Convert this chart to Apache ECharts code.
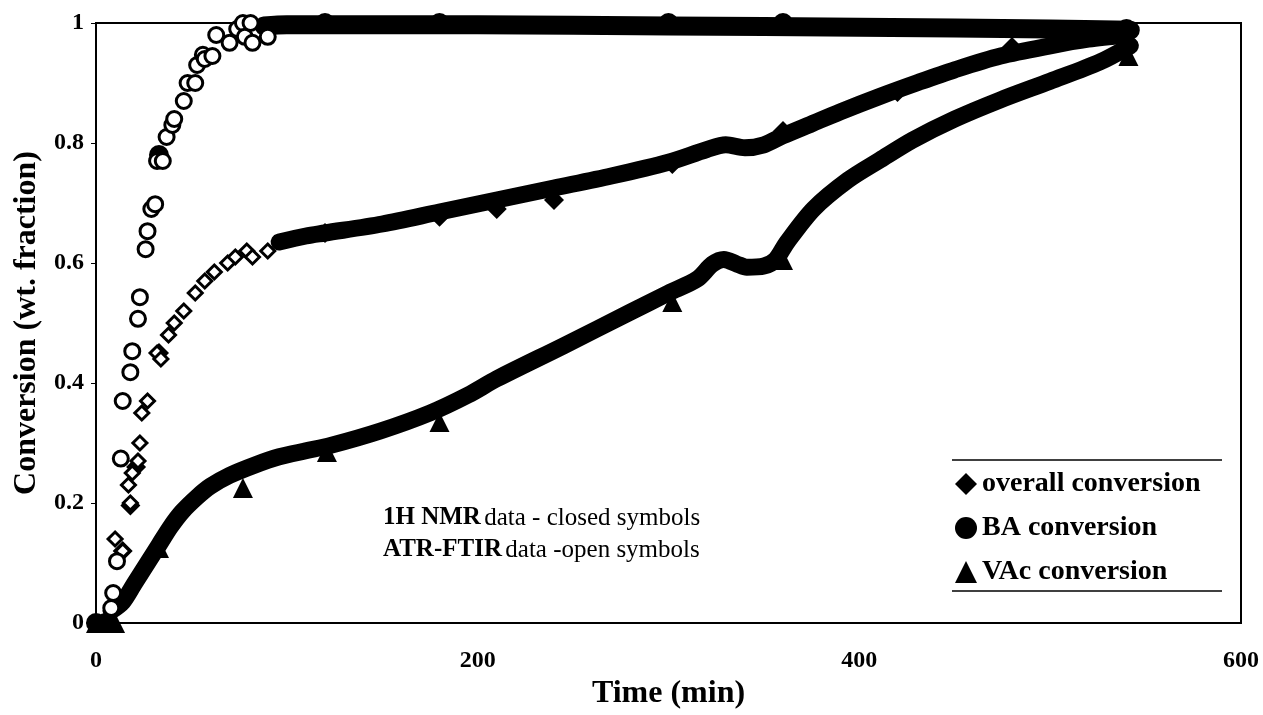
<!DOCTYPE html>
<html>
<head>
<meta charset="utf-8">
<script src="https://cdn.jsdelivr.net/npm/echarts@6/dist/echarts.min.js"></script>
<style>html,body{margin:0;padding:0;background:#fff}#c{width:1263px;height:715px}</style>
</head>
<body>
<div id="c"></div>
<script>
// ---- data (time in min, conversion as wt. fraction) ----
const xTicks = [0, 200, 400, 600];
const yTicks = [0, 0.2, 0.4, 0.6, 0.8, 1];

// 1H NMR (closed symbols)
const overallNMR = [[0,0],[14,0.12],[18,0.196],[21,0.26],[33,0.45],[120,0.65],[180,0.677],[210,0.69],[240,0.705],[302,0.765],[360,0.82],[420,0.885],[480,0.96],[540,0.985]];
const baNMR = [[0,0],[5,0],[33,0.78],[120,1.0],[180,1.0],[300,1.0],[360,1.0],[540,0.99]];
const vacNMR = [[0,0],[10,0],[33,0.125],[77,0.225],[121,0.285],[180,0.335],[302,0.535],[360,0.605],[541,0.945]];

// ATR-FTIR (open symbols) - sparse early points
const overallFTIR = [[8,0.02],[10,0.14],[14,0.12],[17,0.23],[18,0.20],[19,0.25],[22,0.27],[23,0.30],[24,0.35],[27,0.37],[32,0.45],[34,0.44],[38,0.48],[41,0.50],[46,0.52],[52,0.55],[57,0.57],[62,0.585],[69,0.60],[73,0.61],[79,0.62],[82,0.61],[90,0.62]];
const baFTIR = [[8,0.025],[9,0.05],[11,0.103],[13,0.274],[14,0.37],[18,0.418],[19,0.453],[22,0.507],[23,0.543],[26,0.623],[27,0.653],[29,0.69],[31,0.698],[32,0.77],[35,0.77],[37,0.81],[40,0.83],[41,0.84],[46,0.87],[48,0.90],[52,0.90],[53,0.93],[56,0.947],[57,0.94],[61,0.945],[63,0.98],[70,0.967],[74,0.99],[77,1.0],[78,0.977],[81,1.0],[82,0.967],[90,0.977]];

// ATR-FTIR dense records (merge into continuous bands)
const overallDense = [[96,0.635],[110,0.645],[120,0.65],[150,0.665],[180,0.685],[210,0.705],[240,0.725],[270,0.745],[300,0.768],[320,0.789],[330,0.797],[340,0.792],[350,0.797],[360,0.812],[375,0.832],[390,0.852],[411,0.878],[430,0.9],[450,0.922],[474,0.945],[500,0.962],[520,0.973],[540,0.98]];
const baDense = [[88,0.995],[100,0.997],[200,0.997],[300,0.995],[400,0.993],[500,0.99],[542,0.988]];
const vacDense = [[8,0.02],[14,0.035],[20,0.065],[27,0.10],[33,0.13],[39,0.16],[45,0.185],[53,0.21],[60,0.228],[70,0.246],[83,0.263],[96,0.277],[110,0.287],[123,0.296],[149,0.32],[175,0.35],[195,0.38],[210,0.407],[245,0.462],[280,0.518],[300,0.55],[315,0.573],[323,0.598],[329,0.606],[336,0.598],[341,0.593],[350,0.595],[356,0.605],[362,0.634],[376,0.69],[394,0.738],[411,0.772],[428,0.805],[450,0.84],[474,0.872],[500,0.903],[526,0.935],[542,0.962]];

const seriesNames = ['overall conversion', 'BA conversion', 'VAc conversion'];
const axisTitles = ['Time (min)', 'Conversion (wt. fraction)'];

const FONT = '"Liberation Serif", "Times New Roman", serif';
const chart = echarts.init(document.getElementById('c'), null, {renderer: 'canvas'});

const closedStyle = {color: '#000', opacity: 1};
const openStyle = {color: '#fff', borderColor: '#000', borderWidth: 3, opacity: 1};
const denseLine = (data, w) => ({
  type: 'line', data, smooth: 0.3, showSymbol: false, silent: true,
  lineStyle: {color: '#000', width: w, cap: 'round', join: 'round', opacity: 1}, z: 3
});

chart.setOption({
  animation: false,
  backgroundColor: '#fff',
  grid: {left: 96, right: 22, top: 23, bottom: 90, show: true, borderColor: '#000', borderWidth: 2, backgroundColor: 'transparent'},
  xAxis: {
    type: 'value', min: xTicks[0], max: xTicks[xTicks.length - 1], interval: 200,
    name: axisTitles[0], nameLocation: 'middle', nameGap: 55,
    nameTextStyle: {fontFamily: FONT, fontWeight: 'bold', fontSize: 32, color: '#000'},
    axisLine: {show: true, lineStyle: {color: '#000', width: 2}},
    axisTick: {show: false},
    splitLine: {show: false},
    axisLabel: {fontFamily: FONT, fontWeight: 'bold', fontSize: 24, color: '#000', margin: 26}
  },
  yAxis: {
    type: 'value', min: yTicks[0], max: yTicks[yTicks.length - 1], interval: 0.2,
    name: axisTitles[1], nameLocation: 'middle', nameGap: 50, nameRotate: 90,
    nameTextStyle: {fontFamily: FONT, fontWeight: 'bold', fontSize: 32, color: '#000'},
    axisLine: {show: true, lineStyle: {color: '#000', width: 2}},
    axisTick: {show: true, inside: false, length: 5, lineStyle: {color: '#000', width: 1}},
    splitLine: {show: false},
    axisLabel: {fontFamily: FONT, fontWeight: 'bold', fontSize: 24, color: '#000', margin: 12}
  },
  legend: {
    data: seriesNames,
    orient: 'vertical', left: 955, top: 470, padding: 0, itemGap: 16, itemWidth: 22, itemHeight: 22,
    itemStyle: {color: '#000', opacity: 1},
    textStyle: {fontFamily: FONT, fontWeight: 'bold', fontSize: 28, color: '#000', padding: [0,0,0,0]},
    selectedMode: false
  },
  graphic: [
    {type: 'line', shape: {x1: 952, y1: 460, x2: 1222, y2: 460}, style: {stroke: '#000', lineWidth: 1.5}},
    {type: 'line', shape: {x1: 952, y1: 591, x2: 1222, y2: 591}, style: {stroke: '#000', lineWidth: 1.5}},
    {type: 'text', left: 383, top: 502, style: {
      rich: {
        b: {fontFamily: FONT, fontWeight: 'bold', fontSize: 25, fill: '#000'},
        r: {fontFamily: FONT, fontSize: 25, fill: '#000'}
      },
      text: '{b|1H NMR} {r|data - closed symbols}\n{b|ATR-FTIR} {r|data -open symbols}',
      lineHeight: 32
    }}
  ],
  series: [
    {name: seriesNames[0], type: 'scatter', data: overallNMR, symbol: 'diamond', symbolSize: 20, itemStyle: closedStyle, z: 2},
    {name: seriesNames[1], type: 'scatter', data: baNMR, symbol: 'circle', symbolSize: 20, itemStyle: closedStyle, z: 2},
    {name: seriesNames[2], type: 'scatter', data: vacNMR, symbol: 'triangle', symbolSize: 20, itemStyle: closedStyle, z: 2},
    denseLine(overallDense, 17),
    denseLine(baDense, 19),
    denseLine(vacDense, 17),
    {type: 'scatter', data: overallFTIR, symbol: 'diamond', symbolSize: 14, itemStyle: openStyle, z: 4},
    {type: 'scatter', data: baFTIR, symbol: 'circle', symbolSize: 15, itemStyle: openStyle, z: 4}
  ]
});
</script>
</body>
</html>
